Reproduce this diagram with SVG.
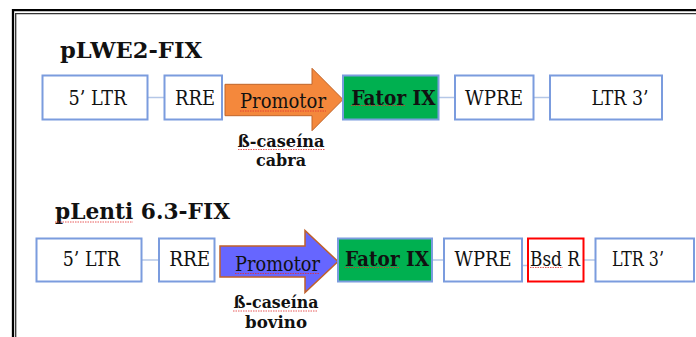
<svg xmlns="http://www.w3.org/2000/svg" width="696" height="337" viewBox="0 0 696 337">
<style>
.box{fill:#fff;stroke:#7B9CDE;stroke-width:2}
.green{fill:#00B050;stroke:#7B9CDE;stroke-width:2}
.red{fill:#fff;stroke:#FF0000;stroke-width:2}
text{font-family:'DejaVu Serif','Liberation Serif',serif;fill:#111}
.lbl{font-size:19.5px;text-anchor:middle}
.b{font-weight:bold}
.title{font-size:23px;font-weight:bold}
.sub{font-size:16.5px;font-weight:bold;text-anchor:middle}
.conn{stroke:#B4C7E7;stroke-width:1.5;fill:none}
.wave{stroke:#E23030;stroke-width:0.8;fill:none;stroke-dasharray:1.5 1}
</style>
<g id="frame" fill="none">
<path d="M13,337 V10.2 H696" stroke="#000" stroke-width="2.3"/>
<path d="M15.7,337 V13.7 H696" stroke="#333" stroke-width="1.3"/>
</g>
<g id="connectors">
<line class="conn" x1="147.5" y1="97.5" x2="164.5" y2="97.5"/>
<line class="conn" x1="438.5" y1="97.5" x2="455" y2="97.5"/>
<line class="conn" x1="533.5" y1="97.5" x2="550" y2="97.5"/>
<line class="conn" x1="141.5" y1="260" x2="159" y2="260"/>
<line class="conn" x1="432" y1="260" x2="444" y2="260"/>
<line class="conn" x1="522" y1="265.5" x2="528" y2="265.5"/>
<line class="conn" x1="583.5" y1="260" x2="595.5" y2="260"/>
</g>
<text class="title" x="60" y="58" textLength="142" lengthAdjust="spacingAndGlyphs">pLWE2-FIX</text>
<text class="title" x="55" y="219.3" textLength="175" lengthAdjust="spacingAndGlyphs">pLenti 6.3-FIX</text>
<g id="r1-ltr5"><rect class="box" x="42.5" y="75.5" width="105" height="44"/><text class="lbl" x="97.5" y="105" textLength="58" lengthAdjust="spacingAndGlyphs">5’ LTR</text></g>
<g id="r1-rre"><rect class="box" x="164.5" y="75.5" width="57.5" height="44"/><text class="lbl" x="195" y="105" textLength="40" lengthAdjust="spacingAndGlyphs">RRE</text></g>
<g id="r1-prom"><path d="M225,84.3 L312,84.3 L312,68.3 L343,99.5 L312,130.7 L312,115.7 L225,115.7 Z" fill="#F4883C" stroke="#C0652A" stroke-width="1"/><text class="lbl" x="283" y="108" textLength="86" lengthAdjust="spacingAndGlyphs">Promotor</text>
<text class="sub" x="281" y="146.5" textLength="87" lengthAdjust="spacingAndGlyphs">ß-caseína</text><text class="sub" x="281" y="165.5" textLength="50" lengthAdjust="spacingAndGlyphs">cabra</text></g>
<g id="r1-fix"><rect class="green" x="343" y="75.5" width="95.5" height="44"/><text class="lbl b" x="393.5" y="105" textLength="84" lengthAdjust="spacingAndGlyphs">Fator IX</text></g>
<g id="r1-wpre"><rect class="box" x="455" y="75.5" width="78.5" height="44"/><text class="lbl" x="494" y="105" textLength="58" lengthAdjust="spacingAndGlyphs">WPRE</text></g>
<g id="r1-ltr3"><rect class="box" x="550" y="75.5" width="112" height="44"/><text class="lbl" x="620" y="105" textLength="57" lengthAdjust="spacingAndGlyphs">LTR 3’</text></g>
<g id="r2-ltr5"><rect class="box" x="36.5" y="238.5" width="105" height="43"/><text class="lbl" x="91.3" y="266" textLength="57" lengthAdjust="spacingAndGlyphs">5’ LTR</text></g>
<g id="r2-rre"><rect class="box" x="159" y="238.5" width="55.5" height="43"/><text class="lbl" x="189.7" y="266" textLength="41" lengthAdjust="spacingAndGlyphs">RRE</text></g>
<g id="r2-prom"><path d="M220,246 L305,246 L305,230.5 L338,261.5 L305,292.5 L305,277 L220,277 Z" fill="#6666FF" stroke="#C0602A" stroke-width="1.5"/><text class="lbl" x="277.5" y="270.5" textLength="85" lengthAdjust="spacingAndGlyphs">Promotor</text>
<text class="sub" x="276" y="308.3" textLength="85" lengthAdjust="spacingAndGlyphs">ß-caseína</text><text class="sub" x="276" y="328.3" textLength="62" lengthAdjust="spacingAndGlyphs">bovino</text></g>
<g id="r2-fix"><rect class="green" x="338" y="238.5" width="94" height="43"/><text class="lbl b" x="387" y="266" textLength="84" lengthAdjust="spacingAndGlyphs">Fator IX</text></g>
<g id="r2-wpre"><rect class="box" x="444" y="238.5" width="78" height="43"/><text class="lbl" x="483" y="266" textLength="57" lengthAdjust="spacingAndGlyphs">WPRE</text></g>
<g id="r2-bsd"><rect class="red" x="528" y="238.5" width="55.5" height="43"/><text class="lbl" x="555" y="266" textLength="50" lengthAdjust="spacingAndGlyphs">Bsd R</text></g>
<g id="r2-ltr3"><rect class="box" x="595.5" y="238.5" width="98.5" height="43"/><text class="lbl" x="638" y="266" textLength="52" lengthAdjust="spacingAndGlyphs">LTR 3’</text></g>
<g id="spell">
<line class="wave" x1="240" y1="111" x2="326" y2="111"/>
<line class="wave" x1="238" y1="149.5" x2="325" y2="149.5"/>
<line class="wave" x1="351" y1="105.5" x2="406" y2="105.5"/>
<line class="wave" x1="235" y1="273.5" x2="320" y2="273.5"/>
<line class="wave" x1="233" y1="311" x2="318" y2="311"/>
<line class="wave" x1="55" y1="222" x2="133" y2="222"/>
<line class="wave" x1="345" y1="267.5" x2="400" y2="267.5"/>
<line class="wave" x1="530" y1="267.5" x2="563" y2="267.5"/>
</g>
</svg>
